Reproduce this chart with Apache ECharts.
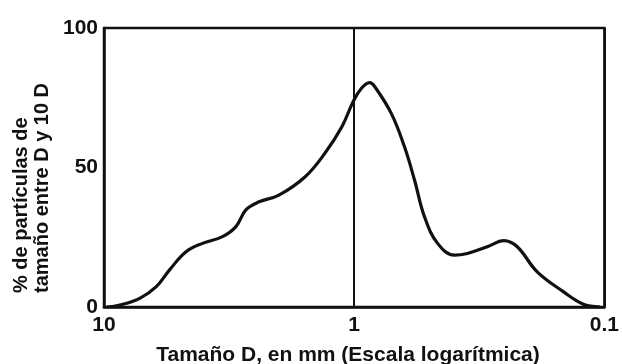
<!DOCTYPE html>
<html>
<head>
<meta charset="utf-8">
<script src="https://cdn.jsdelivr.net/npm/echarts@6/dist/echarts.min.js"></script>
<style>
html,body{margin:0;padding:0;background:#fff;}
#chart{width:622px;height:364px;}
</style>
</head>
<body>
<div id="chart"></div>
<script>
// Particle size D in mm (log scale, decreasing left to right)
var sizes = [9.76, 8.64, 7.2, 6.18, 5.47, 4.70, 4.04, 3.36, 2.97, 2.71, 2.40, 2.00, 1.57, 1.31, 1.12, 1.01, 0.935, 0.867, 0.828, 0.711, 0.630, 0.574, 0.524, 0.464, 0.398, 0.353, 0.294, 0.252, 0.223, 0.186, 0.146, 0.122, 0.104];
// % of particles with size between D and 10 D
var percents = [0, 0.7, 3.1, 7.3, 13.3, 19.8, 22.8, 25.2, 28.8, 34.8, 37.7, 40.1, 46.7, 55.1, 64.6, 73.6, 78.4, 80.4, 79.0, 69.4, 57.5, 45.5, 32.4, 22.8, 18.6, 19.2, 21.6, 23.8, 21.6, 12.7, 5.5, 1.1, 0];
var xTickLabels = {'10': '10', '1': '1', '0.1': '0.1'};
var yTicks = [0, 50, 100];
var yTitle = '% de partículas de\ntamaño entre D y 10 D';
var xTitle = 'Tamaño D, en mm (Escala logarítmica)';

var font = 'Liberation Sans, Arial, sans-serif';
var chart = echarts.init(document.getElementById('chart'), null, {renderer: 'canvas'});
var data = sizes.map(function (s, i) { return [s, percents[i]]; });

chart.setOption({
  animation: false,
  backgroundColor: '#fff',
  grid: {left: 104, right: 14, top: 28, bottom: 57, show: true, borderColor: '#111', borderWidth: 2.5, backgroundColor: 'transparent'},
  xAxis: {
    type: 'log', logBase: 10, min: 0.1, max: 10, inverse: true,
    axisLine: {show: true, lineStyle: {color: '#111', width: 2.5}},
    axisTick: {show: false},
    splitLine: {show: true, lineStyle: {color: '#111', width: 2}},
    axisLabel: {
      color: '#111', fontFamily: font, fontWeight: 'bold', fontSize: 21, margin: 8,
      formatter: function (v) { var k = String(+v.toPrecision(3)); return xTickLabels[k] !== undefined ? xTickLabels[k] : ''; }
    }
  },
  yAxis: {
    type: 'value', min: yTicks[0], max: yTicks[yTicks.length - 1], interval: 50,
    axisLine: {show: true, lineStyle: {color: '#111', width: 2.5}},
    axisTick: {show: false},
    splitLine: {show: false},
    axisLabel: {color: '#111', fontFamily: font, fontWeight: 'bold', fontSize: 21, margin: 6}
  },
  graphic: [
    {
      type: 'text', x: 32, y: 293, rotation: Math.PI / 2,
      style: {text: yTitle, fill: '#111', font: 'bold 20px ' + font, textAlign: 'left', textVerticalAlign: 'middle', lineHeight: 21}
    },
    {
      type: 'text', x: 348, y: 355,
      style: {text: xTitle, fill: '#111', font: 'bold 21px ' + font, textAlign: 'center', textVerticalAlign: 'middle'}
    }
  ],
  series: [{
    type: 'line', data: data, smooth: 0.4, symbol: 'none',
    lineStyle: {color: '#111', width: 3.2}
  }]
});
</script>
</body>
</html>
